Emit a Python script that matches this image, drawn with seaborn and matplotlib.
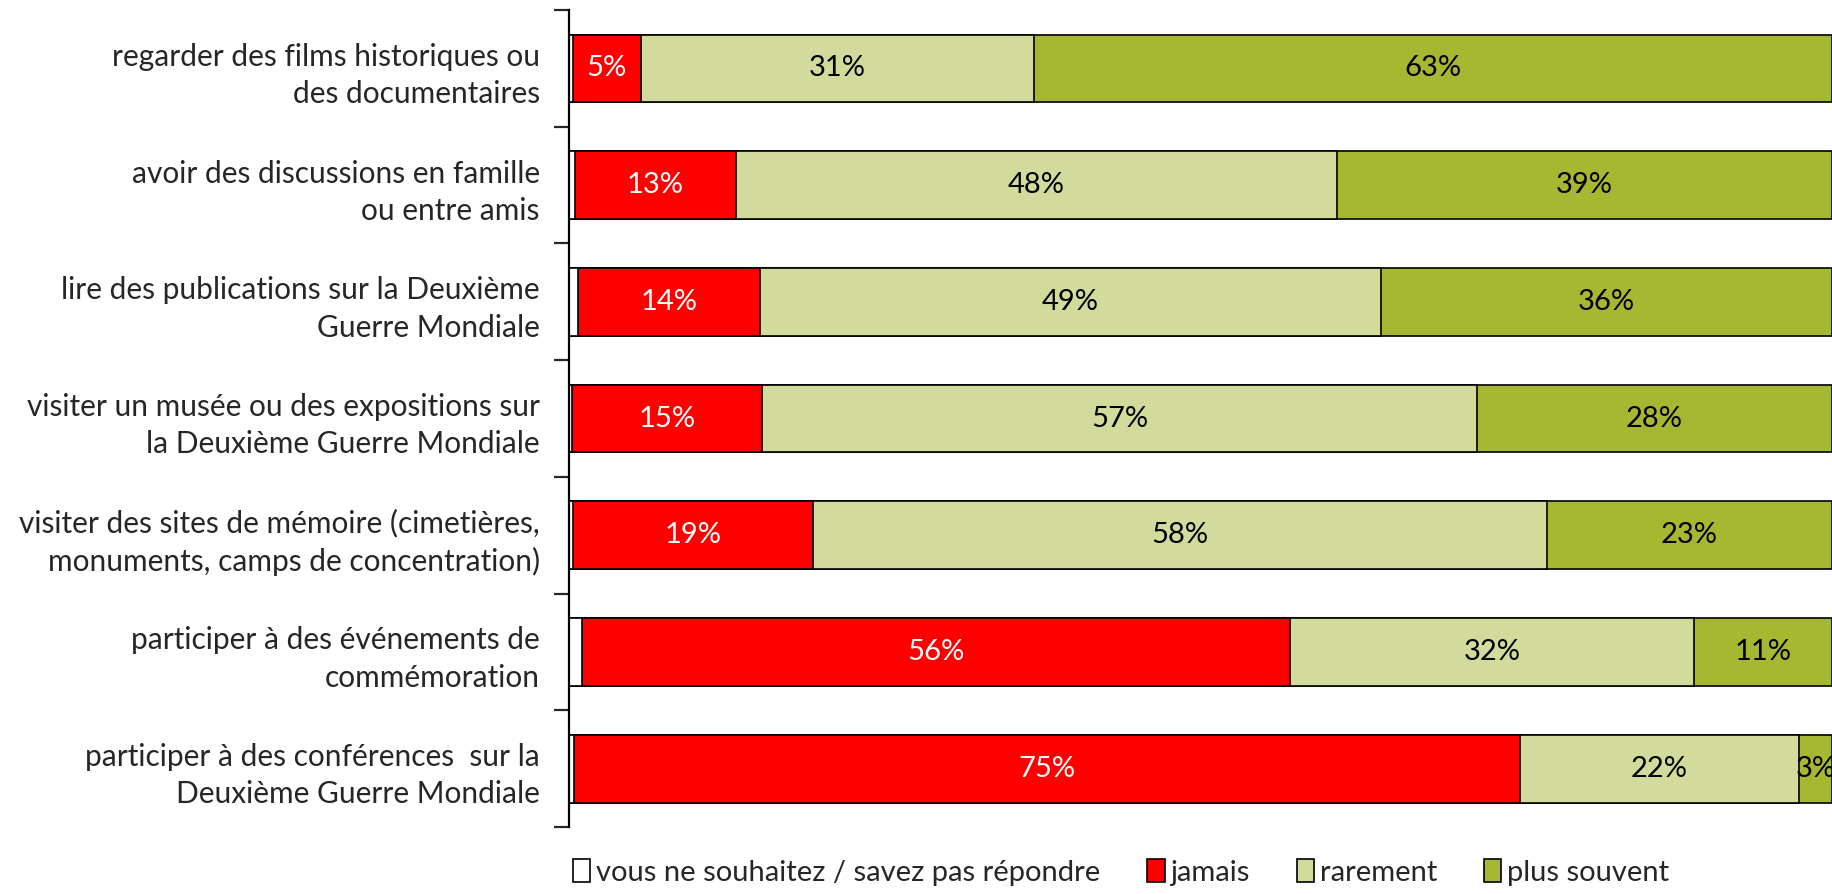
import numpy as np
import pandas as pd
import matplotlib
matplotlib.use("Agg")
import matplotlib.pyplot as plt
import seaborn as sns
from matplotlib.patches import Patch

# ---------- données ----------
categories = [
    "regarder des films historiques ou\ndes documentaires",
    "avoir des discussions en famille\nou entre amis",
    "lire des publications sur la Deuxième\nGuerre Mondiale",
    "visiter un musée ou des expositions sur\nla Deuxième Guerre Mondiale",
    "visiter des sites de mémoire (cimetières,\nmonuments, camps de concentration)",
    "participer à des événements de\ncommémoration",
    "participer à des conférences  sur la\nDeuxième Guerre Mondiale",
]
sans_reponse = [0.3, 0.5, 0.7, 0.2, 0.3, 1.0, 0.4]
jamais = [5.4, 12.7, 14.4, 15.1, 19.0, 56.1, 74.9]
rarement = [31.1, 47.6, 49.2, 56.6, 58.1, 32.0, 22.1]
plus_souvent = [63.2, 39.2, 35.7, 28.1, 22.6, 10.9, 2.6]

series_names = ["vous ne souhaitez / savez pas répondre", "jamais", "rarement", "plus souvent"]
couleurs = ["#FFFFFF", "#FF0000", "#D2DB9B", "#A6B732"]
couleurs_txt = [None, "white", "black", "black"]

sns.set_theme(style="white")
plt.rcParams["font.family"] = ["Lato", "DejaVu Sans"]

df = pd.DataFrame({
    "cat": categories,
    series_names[0]: sans_reponse,
    series_names[1]: jamais,
    series_names[2]: rarement,
    series_names[3]: plus_souvent,
})
cumul = df[series_names].cumsum(axis=1)

fig = plt.figure(figsize=(18.32, 8.94), dpi=100)
ax = fig.add_axes([0.3106, 0.0749, 0.6894, 0.9139])

# barres cumulées, de la plus longue à la plus courte
for name, col in reversed(list(zip(series_names, couleurs))):
    sns.barplot(x=cumul[name], y=df["cat"], orient="h", color=col,
                edgecolor="black", linewidth=1.2, width=0.58, ax=ax,
                saturation=1)

# étiquettes
for i in range(len(categories)):
    start = 0
    for k, name in enumerate(series_names):
        v = df[name].iloc[i]
        if couleurs_txt[k] is not None:
            ax.text(start + v / 2, i, f"{v:.0f}%", ha="center", va="center",
                    color=couleurs_txt[k], fontsize=21)
        start += v

ax.set_xlim(0, 100)
ax.set_ylim(len(categories) - 0.5, -0.5)
ax.set_xlabel("")
ax.set_ylabel("")
ax.set_xticks([])
ax.tick_params(axis="y", which="major", length=0, pad=21, labelsize=21.5)
ax.set_yticks(np.arange(-0.5, len(categories), 1.0), minor=True)
ax.tick_params(axis="y", which="minor", length=11, width=1.6, direction="out", left=True)
for lab in ax.get_yticklabels():
    lab.set_horizontalalignment("right")
    lab.set_multialignment("right")
    lab.set_linespacing(1.4)

for s in ["top", "right", "bottom"]:
    ax.spines[s].set_visible(False)
ax.spines["left"].set_linewidth(1.6)
ax.spines["left"].set_color("black")

handles = [Patch(facecolor=c, edgecolor="black", linewidth=1.2) for c in couleurs]
fig.legend(handles, series_names, loc="center", bbox_to_anchor=(0.612, 0.024),
           ncol=4, frameon=False, fontsize=21, handlelength=0.6, handleheight=0.8,
           handletextpad=0.2, columnspacing=1.6)

fig.savefig("out.png", dpi=100)
